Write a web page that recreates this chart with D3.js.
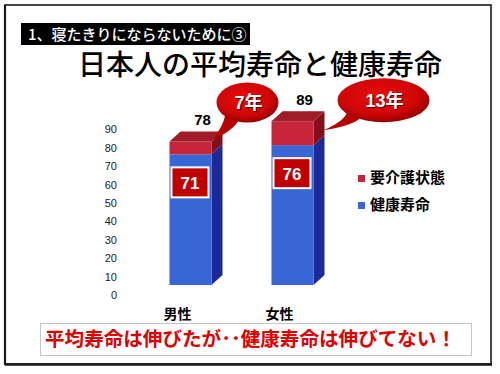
<!DOCTYPE html>
<html><head><meta charset="utf-8">
<script src="https://cdn.jsdelivr.net/npm/d3@7"></script>
<style>body{margin:0;background:#fff}svg{display:block}</style>
</head><body>
<svg id="c" width="500" height="374"></svg>
<script>
const categories = ["男性", "女性"];
const healthy = [71, 76];          // 健康寿命
const care = [7, 13];              // 要介護状態
const totals = [78, 89];           // 平均寿命
const gapLabels = ["7年", "13年"];
const yTicks = [0, 10, 20, 30, 40, 50, 60, 70, 80, 90];
const legendItems = ["要介護状態", "健康寿命"];
const titleSmall = "1、寝たきりにならないために③";
const titleMain = "日本人の平均寿命と健康寿命";
const message = "平均寿命は伸びたが･･健康寿命は伸びてない！";

const JP = "'Noto Sans CJK JP', sans-serif";
const NUM = "'Liberation Sans', Arial, 'Noto Sans CJK JP', sans-serif";
const svg = d3.select("#c");

const defs = svg.append("defs");
const rg = defs.append("radialGradient").attr("id", "bub").attr("cx", "45%").attr("cy", "40%").attr("r", "60%");
rg.append("stop").attr("offset", "0%").attr("stop-color", "#e80d0d");
rg.append("stop").attr("offset", "70%").attr("stop-color", "#cf0606");
rg.append("stop").attr("offset", "100%").attr("stop-color", "#9a0000");

// frame
svg.append("rect").attr("x", 5).attr("y", 5).attr("width", 486).attr("height", 359)
  .attr("fill", "#fff").attr("stroke", "#1a1a1a").attr("stroke-width", 1.6);
svg.append("line").attr("x1", 5).attr("x2", 492).attr("y1", 364.5).attr("y2", 364.5)
  .attr("stroke", "#1a1a1a").attr("stroke-width", 2.5);
svg.append("line").attr("x1", 5).attr("x2", 5).attr("y1", 5).attr("y2", 365)
  .attr("stroke", "#1a1a1a").attr("stroke-width", 2.2);

// small title bar
svg.append("rect").attr("x", 21).attr("y", 23).attr("width", 229).attr("height", 22).attr("fill", "#000");
svg.append("text").attr("x", 28).attr("y", 40).attr("fill", "#fff")
  .style("font-family", JP).style("font-size", "15px").style("font-weight", 500).text(titleSmall);

// main title
svg.append("text").attr("x", 260).attr("y", 75).attr("text-anchor", "middle").attr("fill", "#000")
  .style("font-family", JP).style("font-size", "28px").style("font-weight", 500).text(titleMain);

// scales
const y = d3.scaleLinear().domain([0, 90]).range([285, 119.4]);
const x = d3.scalePoint().domain(categories).range([190.5, 292.5]);
const bw = 42, dx = 11, dy = -10;

// y axis
const ax = svg.append("g").attr("transform", "translate(117,10)")
  .call(d3.axisLeft(y).tickValues(yTicks).tickSize(0).tickPadding(0));
ax.select(".domain").remove();
ax.selectAll("text").style("font-family", NUM).style("font-size", "11px").attr("fill", "#222");

const colors = {
  blue: {front: "#3866d4", side: "#1b2a98", top: "#4a78e0"},
  red: {front: "#c8243a", side: "#82101c", top: "#a01c26"}
};

function box(g, cx, v0, v1, col, drawTop) {
  const x0 = cx - bw / 2, x1 = cx + bw / 2, yt = y(v1), yb = y(v0);
  g.append("path").attr("d", `M${x1},${yb}L${x1 + dx},${yb + dy}L${x1 + dx},${yt + dy}L${x1},${yt}Z`).attr("fill", col.side);
  g.append("rect").attr("x", x0).attr("y", yt).attr("width", bw).attr("height", yb - yt).attr("fill", col.front);
  if (drawTop) g.append("path").attr("d", `M${x0},${yt}L${x0 + dx},${yt + dy}L${x1 + dx},${yt + dy}L${x1},${yt}Z`).attr("fill", col.top);
}

const bars = svg.append("g");
categories.forEach((c, i) => {
  const cx = x(c);
  box(bars, cx, 0, healthy[i], colors.blue, false);
  box(bars, cx, healthy[i], healthy[i] + care[i], colors.red, true);
  // healthy value box
  const by = y(healthy[i]) + 13;
  bars.append("rect").attr("x", cx - 19).attr("y", by).attr("width", 37).attr("height", 30)
    .attr("fill", "#c00000").attr("stroke", "#fff").attr("stroke-width", 2);
  bars.append("text").attr("x", cx - 0.5).attr("y", by + 21.5).attr("text-anchor", "middle")
    .attr("fill", "#fff").style("font-family", NUM).style("font-weight", "bold").style("font-size", "17px")
    .text(healthy[i]);
  // total label
  bars.append("text").attr("x", cx + 12).attr("y", y(totals[i]) + dy - 6).attr("text-anchor", "middle")
    .attr("fill", "#000").style("font-family", NUM).style("font-weight", "bold").style("font-size", "15px")
    .text(totals[i]);
  // category label
  svg.append("text").attr("x", cx - 13).attr("y", 319).attr("text-anchor", "middle")
    .attr("fill", "#000").style("font-family", JP).style("font-weight", "bold").style("font-size", "14px")
    .text(c);
});

// callouts
const bubbleLayout = [
  {ox: 36, oy: -39, rx: 31, ry: 20, tip: [1, -2], b1: -22, b2: -8},
  {ox: 70, oy: -21, rx: 46, ry: 22, tip: [10, 9], b1: -36, b2: -22}
];
categories.forEach((c, i) => {
  const L = bubbleLayout[i];
  const cornerX = x(c) + bw / 2, cornerY = y(healthy[i] + care[i]);
  const ex = cornerX + L.ox, ey = cornerY + L.oy;
  const tx = cornerX + L.tip[0], ty = cornerY + L.tip[1];
  const g = svg.append("g");
  const a1x = ex + L.b1, a2x = ex + L.b2;
  const a1y = ey + L.ry * Math.sqrt(Math.max(0, 1 - (L.b1 / L.rx) ** 2)) - 3;
  const a2y = ey + L.ry * Math.sqrt(Math.max(0, 1 - (L.b2 / L.rx) ** 2)) - 3;
  g.append("path").attr("d", `M${a1x},${a1y}Q${a1x - 2},${(a1y + ty) / 2} ${tx},${ty}Q${a2x - 6},${(a2y + ty) / 2 + 2} ${a2x},${a2y}Z`)
    .attr("fill", "#b80303");
  g.append("ellipse").attr("cx", ex).attr("cy", ey).attr("rx", L.rx).attr("ry", L.ry).attr("fill", "url(#bub)");
  g.append("text").attr("x", ex + 1).attr("y", ey + 7).attr("text-anchor", "middle").attr("fill", "#5a0000")
    .style("font-family", NUM).style("font-weight", "bold").style("font-size", "18px").attr("dx", 1).attr("dy", 1).text(gapLabels[i]);
  g.append("text").attr("x", ex + 1).attr("y", ey + 7).attr("text-anchor", "middle").attr("fill", "#fff")
    .style("font-family", NUM).style("font-weight", "bold").style("font-size", "18px").text(gapLabels[i]);
});

// legend
const legColors = [colors.red.front, colors.blue.front];
legendItems.forEach((t, i) => {
  const ly = 178 + i * 27;
  svg.append("rect").attr("x", 358).attr("y", ly - 3).attr("width", 7).attr("height", 7).attr("fill", legColors[i]);
  svg.append("text").attr("x", 370).attr("y", ly + 5).attr("fill", "#000")
    .style("font-family", JP).style("font-weight", "bold").style("font-size", "15px").text(t);
});

// message box
svg.append("rect").attr("x", 40.5).attr("y", 323.5).attr("width", 431).attr("height", 32)
  .attr("fill", "#fff").attr("stroke", "#c4c4cc").attr("stroke-width", 1);
svg.append("text").attr("x", 45).attr("y", 346).attr("fill", "#e00000")
  .style("font-family", JP).style("font-weight", "bold").style("font-size", "19.5px")
  .attr("textLength", 411).attr("lengthAdjust", "spacingAndGlyphs").text(message);
</script>
</body></html>
